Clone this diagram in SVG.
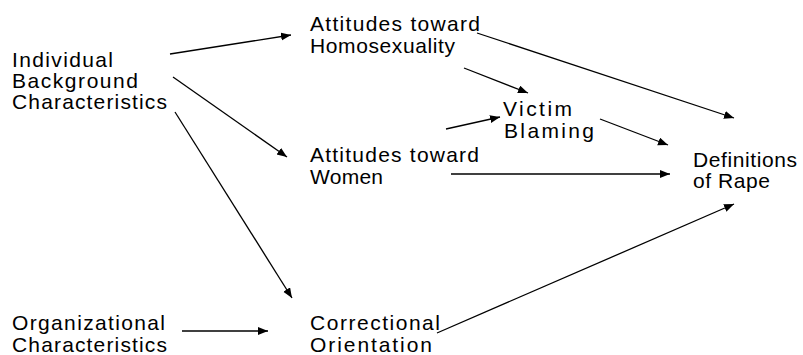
<svg xmlns="http://www.w3.org/2000/svg" width="803" height="355" viewBox="0 0 803 355">
<style>
text{font-family:"Liberation Sans",Arial,Helvetica,sans-serif;font-size:21px;fill:#000}
.c line{stroke:#000;stroke-width:1.3;fill:none;marker-end:url(#ah)}
</style>
<defs>
<marker id="ah" markerUnits="userSpaceOnUse" markerWidth="12" markerHeight="10" refX="10" refY="4" orient="auto">
<path d="M0,0 L10,4 L0,8 Z" fill="#000"/>
</marker>
</defs>
<rect width="803" height="355" fill="#fff"/>
<g id="individual">
<text x="12" y="67" textLength="101" lengthAdjust="spacing">Individual</text>
<text x="12" y="88" textLength="126" lengthAdjust="spacing">Background</text>
<text x="12" y="109" textLength="155" lengthAdjust="spacing">Characteristics</text>
</g>
<g id="homosexuality">
<text x="310" y="31" textLength="170" lengthAdjust="spacing">Attitudes toward</text>
<text x="310" y="53" textLength="145" lengthAdjust="spacing">Homosexuality</text>
</g>
<g id="women">
<text x="310" y="162" textLength="169" lengthAdjust="spacing">Attitudes toward</text>
<text x="310" y="184" textLength="73" lengthAdjust="spacing">Women</text>
</g>
<g id="victim">
<text x="503" y="116" textLength="69" lengthAdjust="spacing">Victim</text>
<text x="504" y="138" textLength="90" lengthAdjust="spacing">Blaming</text>
</g>
<g id="definitions">
<text x="693" y="167" textLength="104" lengthAdjust="spacing">Definitions</text>
<text x="693" y="188" textLength="77" lengthAdjust="spacing">of Rape</text>
</g>
<g id="organizational">
<text x="12" y="330" textLength="153" lengthAdjust="spacing">Organizational</text>
<text x="12" y="352" textLength="155" lengthAdjust="spacing">Characteristics</text>
</g>
<g id="correctional">
<text x="310" y="330" textLength="130" lengthAdjust="spacing">Correctional</text>
<text x="310" y="352" textLength="122" lengthAdjust="spacing">Orientation</text>
</g>
<g id="connectors" class="c">
<line x1="170" y1="54" x2="291" y2="35"/>
<line x1="173" y1="77" x2="287" y2="157"/>
<line x1="175" y1="112" x2="292" y2="298"/>
<line x1="182" y1="331" x2="268" y2="331"/>
<line x1="477" y1="33" x2="734" y2="118"/>
<line x1="464" y1="68" x2="528" y2="93"/>
<line x1="446" y1="129" x2="500" y2="117"/>
<line x1="600" y1="119" x2="668" y2="145"/>
<line x1="451" y1="174" x2="670" y2="174"/>
<line x1="437" y1="333" x2="734" y2="204"/>
</g>
</svg>
